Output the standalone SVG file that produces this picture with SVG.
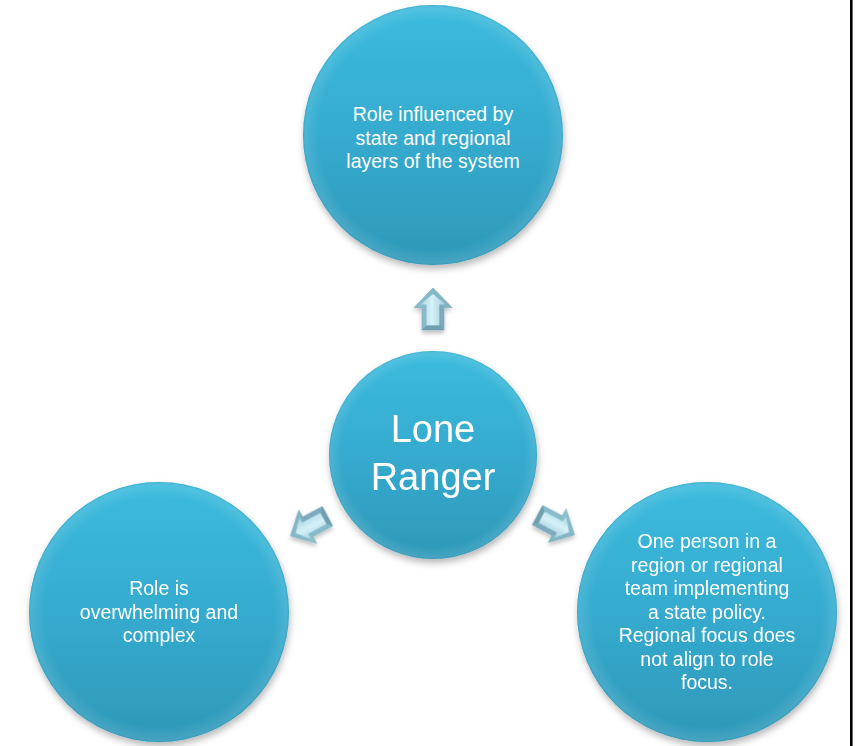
<svg xmlns="http://www.w3.org/2000/svg" width="856" height="746" viewBox="0 0 856 746">
  <defs>
    <linearGradient id="ballFill" x1="0" y1="0" x2="0" y2="1">
      <stop offset="0" stop-color="#3cbbdd"/>
      <stop offset="0.5" stop-color="#35abcf"/>
      <stop offset="1" stop-color="#2e98b9"/>
    </linearGradient>
    <radialGradient id="ballRim" cx="0.5" cy="0.5" r="0.5">
      <stop offset="0.88" stop-color="#ffffff" stop-opacity="0"/>
      <stop offset="0.975" stop-color="#ffffff" stop-opacity="0.1"/>
      <stop offset="1" stop-color="#2a8eae" stop-opacity="0.3"/>
    </radialGradient>
    <linearGradient id="arrowBase" x1="0" y1="0" x2="1" y2="0">
      <stop offset="0" stop-color="#8cbfce"/>
      <stop offset="1" stop-color="#7fb1c1"/>
    </linearGradient>
    <linearGradient id="arrowFace" x1="0" y1="0" x2="1" y2="0">
      <stop offset="0" stop-color="#a9d6e3"/>
      <stop offset="0.45" stop-color="#d6f1f8"/>
      <stop offset="1" stop-color="#9fcedc"/>
    </linearGradient>
    <filter id="softShadow" x="-20%" y="-20%" width="140%" height="150%">
      <feDropShadow dx="1" dy="4" stdDeviation="3.5" flood-color="#000000" flood-opacity="0.28"/>
    </filter>
    <filter id="arrowShadow" x="-50%" y="-50%" width="200%" height="200%">
      <feDropShadow dx="0" dy="3" stdDeviation="2" flood-color="#000000" flood-opacity="0.25"/>
    </filter>
    <!-- bevelled block arrow, pointing up, centred on the origin -->
    <g id="blockArrow">
      <polygon points="0,-21 19,-1.5 11,-1.5 11,21 -11,21 -11,-1.5 -19,-1.5" fill="url(#arrowBase)" stroke="#76a8b8" stroke-width="0.6"/>
      <polygon points="0,-15 12.5,-4.5 6.5,-4.5 6.5,16.5 -6.5,16.5 -6.5,-4.5 -12.5,-4.5" fill="url(#arrowFace)"/>
      <polygon points="6.5,-4.5 11,-1.5 11,21 6.5,16.5" fill="#7aaabb"/>
      <polygon points="-6.5,16.5 6.5,16.5 11,21 -11,21" fill="#6f9fb0"/>
    </g>
  </defs>
  <style>
    .ball { fill: url(#ballFill); filter: url(#softShadow); }
    .rim { fill: url(#ballRim); }
    .label { font-family: "Liberation Sans", Arial, sans-serif; font-size: 19.5px; fill: #ffffff; text-anchor: middle; }
    .big { font-family: "Liberation Sans", Arial, sans-serif; font-size: 38px; fill: #ffffff; text-anchor: middle; }
  </style>

  <rect x="0" y="0" width="856" height="746" fill="#ffffff"/>
  <!-- frame edge on the right -->
  <rect x="850" y="0" width="2.6" height="746" fill="#000000"/>

  <g id="connectors" filter="url(#arrowShadow)">
    <use href="#blockArrow" transform="translate(433,309)"/>
    <use href="#blockArrow" transform="translate(309,526) rotate(-118)"/>
    <use href="#blockArrow" transform="translate(556,525) rotate(118)"/>
  </g>

  <g id="node-top">
    <circle class="ball" cx="433" cy="135" r="130"/>
    <circle class="rim" cx="433" cy="135" r="130"/>
    <text class="label" x="433" y="121">Role influenced by</text>
    <text class="label" x="433" y="144.5">state and regional</text>
    <text class="label" x="433" y="168">layers of the system</text>
  </g>

  <g id="node-center">
    <circle class="ball" cx="433" cy="455" r="104"/>
    <circle class="rim" cx="433" cy="455" r="104"/>
    <text class="big" x="433" y="442">Lone</text>
    <text class="big" x="433" y="490">Ranger</text>
  </g>

  <g id="node-left">
    <circle class="ball" cx="159" cy="612" r="130"/>
    <circle class="rim" cx="159" cy="612" r="130"/>
    <text class="label" x="159" y="595">Role is</text>
    <text class="label" x="159" y="618.5">overwhelming and</text>
    <text class="label" x="159" y="642">complex</text>
  </g>

  <g id="node-right">
    <circle class="ball" cx="707" cy="612" r="130"/>
    <circle class="rim" cx="707" cy="612" r="130"/>
    <text class="label" x="707" y="548">One person in a</text>
    <text class="label" x="707" y="571.5">region or regional</text>
    <text class="label" x="707" y="595">team implementing</text>
    <text class="label" x="707" y="618.5">a state policy.</text>
    <text class="label" x="707" y="642">Regional focus does</text>
    <text class="label" x="707" y="665.5">not align to role</text>
    <text class="label" x="707" y="689">focus.</text>
  </g>
</svg>
